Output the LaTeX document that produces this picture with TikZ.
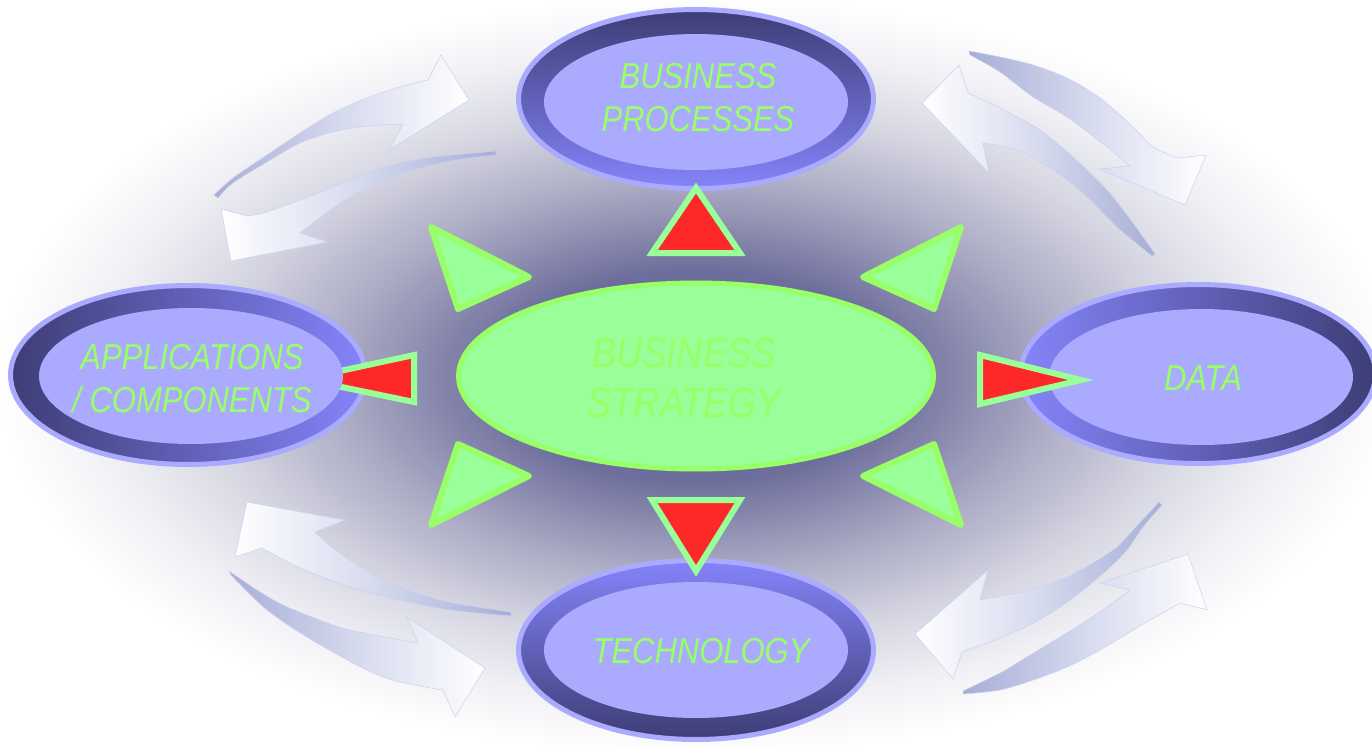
\documentclass[tikz,border=0pt]{standalone}
\usepackage{fontspec}
\newfontfamily\labfont{Liberation Sans}[FakeStretch=0.86]
\usetikzlibrary{shapes.geometric}
\definecolor{bgA}{HTML}{64648F}
\definecolor{bgB}{HTML}{6E6E9C}
\definecolor{bgC}{HTML}{A9A9C3}
\definecolor{bgD}{HTML}{D7D7E3}
\definecolor{bgE}{HTML}{F3F3F7}
\pgfdeclareradialshading{bgshade}{\pgfpoint{0bp}{0bp}}{color(0bp)=(bgA); color(7bp)=(bgB); color(12.5bp)=(bgC); color(17.5bp)=(bgD); color(22bp)=(bgE); color(25bp)=(white); color(50bp)=(white)}
\definecolor{ringD}{HTML}{3D3D76}
\definecolor{ringL}{HTML}{8484FA}
\definecolor{lav}{HTML}{AAAAFF}
\definecolor{txtG}{HTML}{99FF66}
\definecolor{paleG}{HTML}{99FF99}
\definecolor{redF}{HTML}{FF2828}
\definecolor{tailC}{HTML}{A6AED6}
\definecolor{midC}{HTML}{D6DAEE}
\definecolor{arrL}{HTML}{CDD0EE}
\tikzset{
  ringout/.style={ellipse, inner sep=0pt, minimum width=7.1cm, minimum height=3.58cm, draw=lav, line width=0.1cm},
  ringin/.style={ellipse, inner sep=0pt, minimum width=6.08cm, minimum height=2.72cm, fill=lav},
  lab/.style={font=\labfont\itshape\fontsize{20.5}{24.5}\selectfont, text=txtG, align=center, inner sep=0pt},
  greentri/.style={fill=paleG, draw=txtG, line width=0.12cm, line join=round},
  redtri/.style={fill=redF, draw=paleG, line width=0.12cm, line join=miter},
  curv/.style={draw=arrL, line width=0.3pt},
  tailleft/.style={left color=tailC, right color=white, middle color=midC},
  tailright/.style={left color=white, right color=tailC, middle color=midC}
}
\begin{document}
\begin{tikzpicture}[x=0.02cm, y=-0.02cm]
\useasboundingbox (0,0) rectangle (1372,745);
\clip (0,0) rectangle (1372,745);
\shade[shading=bgshade] (-4,-4) rectangle (1396,756);

% curved arrows
\shade[curv, tailleft]
 plot[smooth] coordinates {(214,195) (233,178) (267,155) (300,133) (333,113) (367,98) (400,87) (428,80)}
 -- (441,55) -- (469,100) -- (389,150) -- (403,124)
 -- plot[smooth] coordinates {(403,124) (367,126) (333,132) (300,143) (267,162) (233,183) (218,198)} -- cycle;
\shade[curv, tailright]
 plot[smooth] coordinates {(496,151) (433,157) (400,163) (367,173) (333,187) (300,200) (267,212) (247,216)}
 -- (221,209) -- (231,261) -- (328,242) -- (300,233)
 -- plot[smooth] coordinates {(300,233) (317,220) (350,197) (400,174) (450,161) (496,155)} -- cycle;
\shade[curv, tailleft]
 plot[smooth] coordinates {(969,51) (1000,57) (1033,65) (1067,78) (1100,98) (1133,127) (1153,147) (1178,158)}
 -- (1206,155) -- (1185,205) -- (1099,169) -- (1130,166)
 -- plot[smooth] coordinates {(1130,166) (1107,147) (1067,117) (1033,97) (1000,72) (970,55)} -- cycle;
\shade[curv, tailright]
 plot[smooth] coordinates {(1155,254) (1133,223) (1107,190) (1073,157) (1040,130) (1000,108) (968,93)}
 -- (959,65) -- (922,103) -- (989,173) -- (983,143)
 -- plot[smooth] coordinates {(983,143) (1017,150) (1050,168) (1083,193) (1117,227) (1152,256)} -- cycle;
\shade[curv, tailright]
 plot[smooth] coordinates {(511,612) (453,603) (417,593) (387,582) (360,567) (333,548) (315,532)}
 -- (345,520) -- (247,502) -- (235,557) -- (262,548)
 -- plot[smooth] coordinates {(262,548) (300,568) (350,587) (400,600) (450,610) (511,616)} -- cycle;
\shade[curv, tailleft]
 plot[smooth] coordinates {(229,571) (257,590) (283,605) (317,619) (350,630) (418,643)}
 -- (407,617) -- (485,668) -- (455,717) -- (443,690)
 -- plot[smooth] coordinates {(443,690) (383,677) (317,643) (267,610) (231,575)} -- cycle;
\shade[curv, tailright]
 plot[smooth] coordinates {(1159,502) (1133,530) (1117,547) (1093,563) (1067,577) (1040,587) (1017,593) (980,600)}
 -- (988,570) -- (915,634) -- (953,679) -- (962,652)
 -- plot[smooth] coordinates {(962,652) (1000,638) (1033,623) (1060,607) (1083,590) (1107,570) (1127,550) (1143,527) (1162,505)} -- cycle;
\shade[curv, tailleft]
 plot[smooth] coordinates {(963,694) (1000,690) (1033,680) (1067,667) (1100,650) (1133,630) (1150,620) (1180,603)}
 -- (1207,610) -- (1188,554) -- (1100,583) -- (1130,590)
 -- plot[smooth] coordinates {(1130,590) (1107,607) (1083,623) (1050,643) (1017,663) (1000,673) (963,691)} -- cycle;

% green triangles
\draw[greentri] (431,227) -- (529,277) -- (458,309) -- cycle;
\draw[greentri] (961,227) -- (863,277) -- (934,309) -- cycle;
\draw[greentri] (458,444) -- (529,476) -- (431,525) -- cycle;
\draw[greentri] (934,444) -- (863,476) -- (961,525) -- cycle;

% central ellipse
\node[ellipse, inner sep=0pt, minimum width=9.5cm, minimum height=3.72cm, fill=paleG, draw=txtG, line width=0.1cm] (bsE) at (696,376) {};
\node[lab, font=\labfont\itshape\fontsize{24}{28.5}\selectfont] (bs) at (684,378) {BUSINESS\\STRATEGY};

% business processes
\node[ringout, top color=ringD, bottom color=ringL] (bpR) at (696,99) {};
\node[ringin] (bpI) at (696,102) {};
\node[lab] (bp) at (698,98) {BUSINESS\\PROCESSES};

% technology
\node[ringout, top color=ringL, bottom color=ringD] (techR) at (696,650) {};
\node[ringin] (techI) at (696,650) {};
\node[lab] (tech) at (701,651) {TECHNOLOGY};

% applications
\node[ringout, left color=ringD, right color=ringL] (appR) at (188,375) {};
\draw[redtri] (414,355) -- (414,402) -- (303,379) -- cycle;
\node[ringin] (appI) at (191,376) {};
\node[lab] (app) at (192,379) {APPLICATIONS\\/ COMPONENTS};

% data
\node[ringout, left color=ringL, right color=ringD] (dataR) at (1198,374) {};
\node[ringin] (dataI) at (1201,377) {};
\node[lab] (data) at (1203,378) {DATA};

% red triangles
\draw[redtri] (696,188) -- (740,253) -- (652,253) -- cycle;
\draw[redtri] (652,500) -- (740,500) -- (696,571) -- cycle;
\draw[redtri] (980,355) -- (1081,380) -- (980,404) -- cycle;
\end{tikzpicture}
\end{document}
